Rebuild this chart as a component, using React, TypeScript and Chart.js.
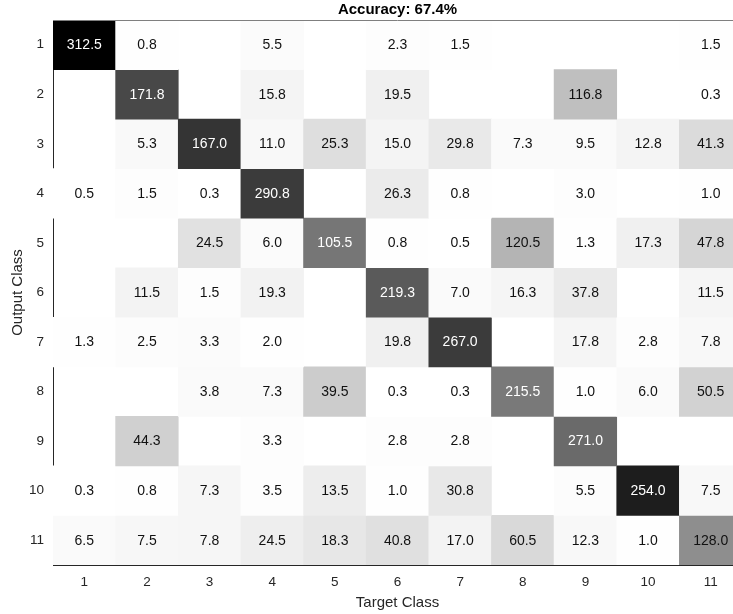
import React, { useEffect, useRef } from "react";
import { Chart, registerables } from "chart.js";

Chart.register(...registerables);

const chartTitle = "Accuracy: 67.4%";
const xAxisTitle = "Target Class";
const yAxisTitle = "Output Class";

const targetClasses = ["1", "2", "3", "4", "5", "6", "7", "8", "9", "10", "11"];
const outputClasses = ["1", "2", "3", "4", "5", "6", "7", "8", "9", "10", "11"];

// rows = output class, columns = target class (0 = empty cell)
const row1 = [312.5, 0.8, 0, 5.5, 0, 2.3, 1.5, 0, 0, 0, 1.5];
const row2 = [0, 171.8, 0, 15.8, 0, 19.5, 0, 0, 116.8, 0, 0.3];
const row3 = [0, 5.3, 167.0, 11.0, 25.3, 15.0, 29.8, 7.3, 9.5, 12.8, 41.3];
const row4 = [0.5, 1.5, 0.3, 290.8, 0, 26.3, 0.8, 0, 3.0, 0, 1.0];
const row5 = [0, 0, 24.5, 6.0, 105.5, 0.8, 0.5, 120.5, 1.3, 17.3, 47.8];
const row6 = [0, 11.5, 1.5, 19.3, 0, 219.3, 7.0, 16.3, 37.8, 0, 11.5];
const row7 = [1.3, 2.5, 3.3, 2.0, 0, 19.8, 267.0, 0, 17.8, 2.8, 7.8];
const row8 = [0, 0, 3.8, 7.3, 39.5, 0.3, 0.3, 215.5, 1.0, 6.0, 50.5];
const row9 = [0, 44.3, 0, 3.3, 0, 2.8, 2.8, 0, 271.0, 0, 0];
const row10 = [0.3, 0.8, 7.3, 3.5, 13.5, 1.0, 30.8, 0, 5.5, 254.0, 7.5];
const row11 = [6.5, 7.5, 7.8, 24.5, 18.3, 40.8, 17.0, 60.5, 12.3, 1.0, 128.0];

const confusionRows = [row1, row2, row3, row4, row5, row6, row7, row8, row9, row10, row11];

const FONT = "'Liberation Sans', Arial, Helvetica, sans-serif";
const TEXT_DARK = "#262626";

export default function App() {
  const canvasRef = useRef<HTMLCanvasElement | null>(null);

  useEffect(() => {
    const canvas = canvasRef.current;
    if (!canvas) return;

    const colSums = targetClasses.map((_, c) =>
      confusionRows.reduce((s, row) => s + row[c], 0)
    );
    const fractions = confusionRows.map((row) => row.map((v, c) => (colSums[c] > 0 ? v / colSums[c] : 0)));
    const fMax = Math.max(...fractions.flat());
    const level = (r: number, c: number) => fractions[r][c] / fMax;
    const grayOf = (r: number, c: number) => {
      const g = Math.round(255 * (1 - level(r, c)));
      return `rgb(${g},${g},${g})`;
    };

    const datasets = confusionRows.map((row, r) => ({
      label: outputClasses[r],
      data: row.map((v) => (v > 0 ? [r + 1 - 0.5, r + 1 + 0.5] : null)),
      backgroundColor: row.map((_, c) => grayOf(r, c)),
      borderWidth: 0,
      categoryPercentage: 1,
      barPercentage: 1,
      grouped: false,
    }));

    const cellLabels = {
      id: "cellLabels",
      afterDatasetsDraw(chart: any) {
        const ctx = chart.ctx;
        ctx.save();
        ctx.font = `14px ${FONT}`;
        ctx.textAlign = "center";
        ctx.textBaseline = "middle";
        chart.data.datasets.forEach((_: any, r: number) => {
          const meta = chart.getDatasetMeta(r);
          meta.data.forEach((el: any, c: number) => {
            const v = confusionRows[r][c];
            if (!(v > 0)) return;
            const props = el.getProps(["x", "y", "base"], true);
            ctx.fillStyle = level(r, c) > 0.5 ? "#ffffff" : "#111111";
            ctx.fillText(v.toFixed(1), props.x, (props.y + props.base) / 2 + 0.5);
          });
        });
        ctx.restore();
      },
    };

    const topBorder = {
      id: "topBorder",
      afterDraw(chart: any) {
        const { ctx, chartArea } = chart;
        ctx.save();
        ctx.strokeStyle = "#7f7f7f";
        ctx.lineWidth = 1;
        ctx.beginPath();
        const y = Math.round(chartArea.top) + 0.5;
        ctx.moveTo(chartArea.left, y);
        ctx.lineTo(chartArea.right, y);
        ctx.stroke();
        ctx.restore();
      },
    };

    const chart = new Chart(canvas, {
      type: "bar",
      data: { labels: targetClasses, datasets: datasets as any },
      options: {
        animation: false,
        responsive: false,
        events: [],
        layout: { padding: { left: 0, right: 18, top: 0, bottom: 0 } },
        plugins: {
          legend: { display: false },
          tooltip: { enabled: false },
          title: {
            display: true,
            text: chartTitle,
            fullSize: false,
            color: "#000000",
            font: { family: FONT, size: 15, weight: "bold", lineHeight: 1.2 },
            padding: { top: 1, bottom: 1 },
          },
        },
        scales: {
          x: {
            type: "category",
            offset: true,
            grid: { display: true, drawOnChartArea: false, drawTicks: false },
            border: { display: true, color: TEXT_DARK, width: 1 },
            ticks: { color: TEXT_DARK, font: { family: FONT, size: 13.5 }, padding: 9, maxRotation: 0 },
            title: {
              display: true,
              text: xAxisTitle,
              color: TEXT_DARK,
              font: { family: FONT, size: 15, lineHeight: 1.2 },
              padding: { top: 0, bottom: 2 },
            },
            afterFit(scale: any) {
              scale.height = 49;
            },
          },
          y: {
            type: "linear",
            min: 0.5,
            max: 11.5,
            reverse: true,
            grid: { display: true, drawOnChartArea: false, drawTicks: false },
            border: { display: true, color: TEXT_DARK, width: 1 },
            afterBuildTicks(scale: any) {
              scale.ticks = outputClasses.map((_, i) => ({ value: i + 1 }));
            },
            ticks: {
              color: TEXT_DARK,
              font: { family: FONT, size: 13.5 },
              padding: 9,
              callback: (v: any) => outputClasses[Number(v) - 1] ?? "",
            },
            title: {
              display: true,
              text: yAxisTitle,
              color: TEXT_DARK,
              font: { family: FONT, size: 15, lineHeight: 1.2 },
              padding: { top: 9, bottom: 0 },
            },
            afterFit(scale: any) {
              scale.width = 53;
            },
          },
        },
      },
      plugins: [cellLabels, topBorder],
    });

    return () => chart.destroy();
  }, []);

  return (
    <div style={{ position: "fixed", left: 0, top: 0, width: 760, height: 614, background: "#ffffff" }}>
      <canvas ref={canvasRef} width={760} height={614} style={{ width: 760, height: 614, display: "block" }} />
    </div>
  );
}
